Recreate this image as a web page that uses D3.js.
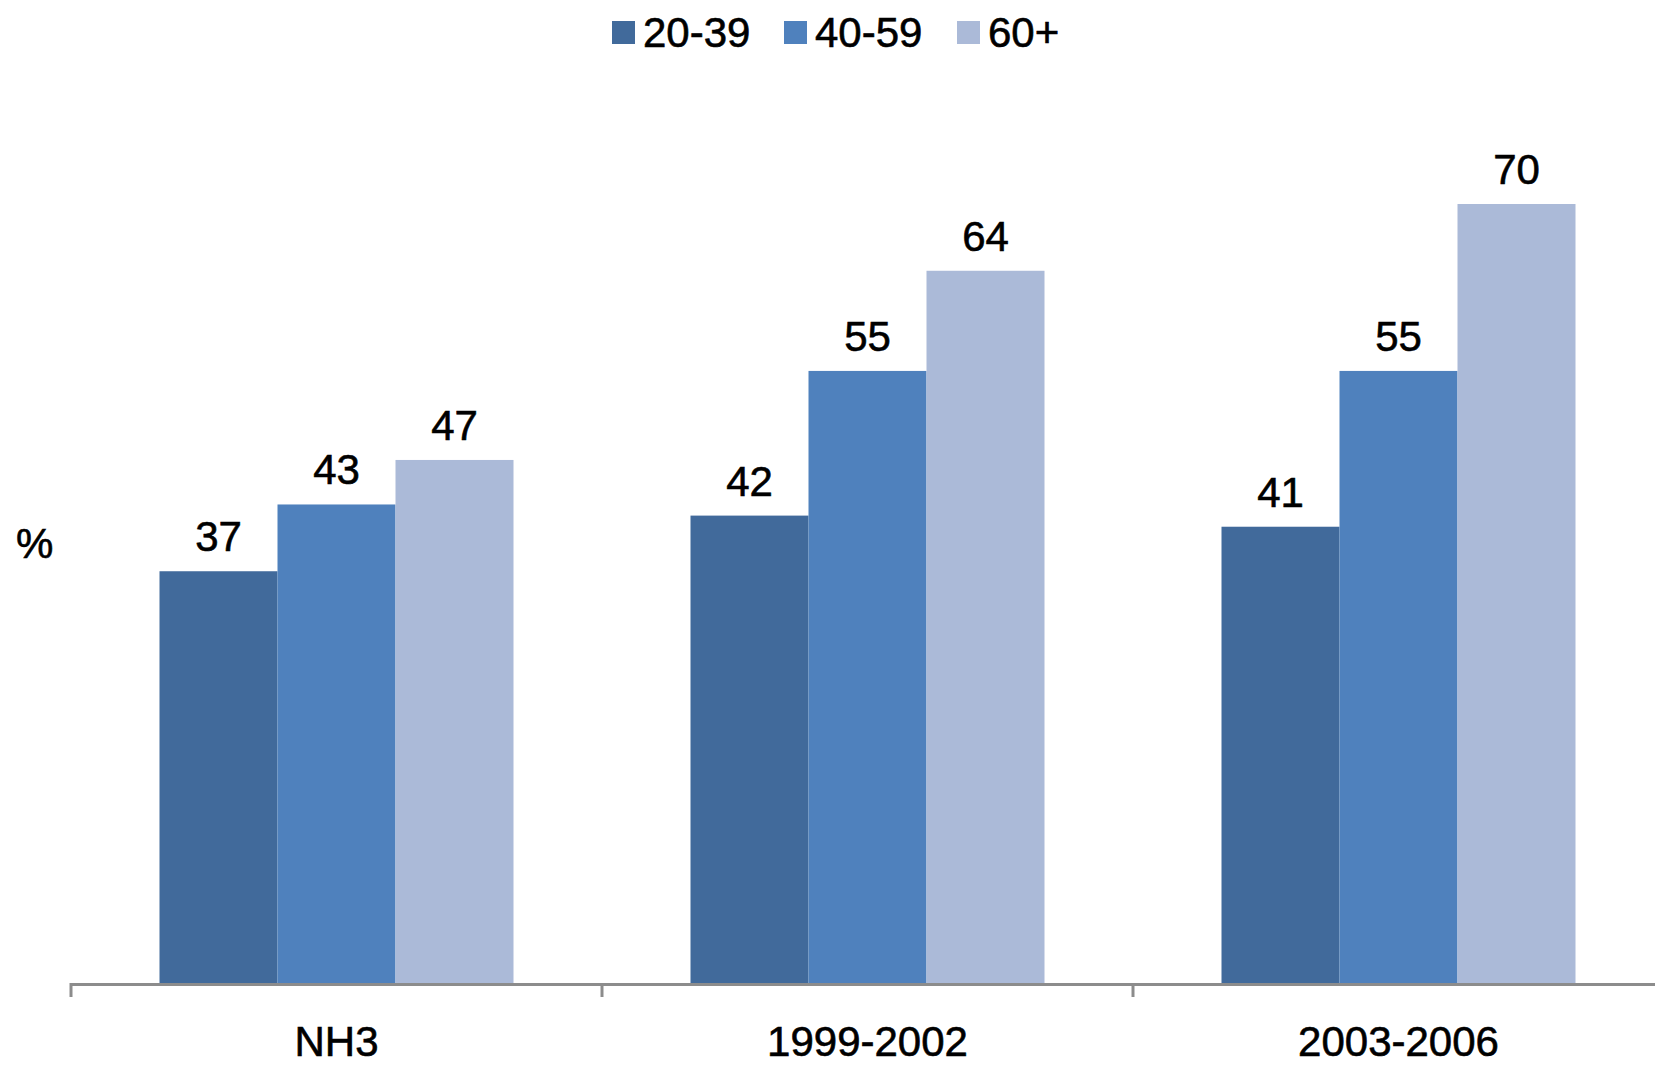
<!DOCTYPE html>
<html><head><meta charset="utf-8">
<script src="https://cdn.jsdelivr.net/npm/d3@7"></script>
<style>
html,body{margin:0;padding:0;background:#fff;}
svg{display:block;}
text{font-family:"Liberation Sans",Arial,sans-serif;fill:#000;stroke:#000;stroke-width:0.6px;}
</style></head>
<body>
<svg id="chart" width="1655" height="1065"></svg>
<script>
const categories = ["NH3", "1999-2002", "2003-2006"];
const seriesNames = ["20-39", "40-59", "60+"];
const values_20_39 = [37, 42, 41];
const values_40_59 = [43, 55, 55];
const values_60plus = [47, 64, 70];
const seriesColors = ["#416A9B", "#4F81BD", "#ABBAD8"];

const seriesValues = [values_20_39, values_40_59, values_60plus];
const svg = d3.select("#chart");
const W = 1655, H = 1065;
const left = 71, catW = 531, baseY = 983;

const x0 = d3.scaleBand().domain(categories).range([left, left + catW * categories.length]).padding(0);
const barW = x0.bandwidth() / 4.5;
const x1 = d3.scaleBand().domain(seriesNames).range([barW * 0.75, x0.bandwidth() - barW * 0.75]).padding(0);
const y = d3.scaleLinear().domain([0, 70]).range([baseY, 204]);

const data = [];
categories.forEach((c, ci) => seriesNames.forEach((s, si) => data.push({c, s, si, v: seriesValues[si][ci]})));

const g = svg.append("g");
g.selectAll("rect.bar").data(data).enter().append("rect")
  .attr("class", "bar")
  .attr("x", d => x0(d.c) + x1(d.s))
  .attr("y", d => y(d.v))
  .attr("width", x1.bandwidth())
  .attr("height", d => y(0) - y(d.v))
  .attr("fill", d => seriesColors[d.si]);

g.selectAll("text.val").data(data).enter().append("text")
  .attr("class", "val")
  .attr("x", d => x0(d.c) + x1(d.s) + x1.bandwidth() / 2)
  .attr("y", d => y(d.v) - 20)
  .attr("text-anchor", "middle")
  .attr("font-size", 42)
  .text(d => d.v);

// x axis
const axis = svg.append("g");
axis.append("line").attr("x1", left).attr("x2", W).attr("y1", baseY + 1.5).attr("y2", baseY + 1.5)
  .attr("stroke", "#8c8c8c").attr("stroke-width", 3);
categories.forEach(c => {
  axis.append("line").attr("x1", x0(c)).attr("x2", x0(c)).attr("y1", baseY).attr("y2", baseY + 14)
    .attr("stroke", "#8c8c8c").attr("stroke-width", 3);
});
axis.selectAll("text.cat").data(categories).enter().append("text")
  .attr("class", "cat")
  .attr("x", d => x0(d) + x0.bandwidth() / 2)
  .attr("y", 1056)
  .attr("text-anchor", "middle")
  .attr("font-size", 42)
  .text(d => d);

// y label
svg.append("text").attr("x", 16).attr("y", 558).attr("font-size", 42).text("%");

// legend
const legendX = [612, 784, 957];
const lg = svg.append("g");
seriesNames.forEach((s, i) => {
  lg.append("rect").attr("x", legendX[i]).attr("y", 21).attr("width", 23).attr("height", 23).attr("fill", seriesColors[i]);
  lg.append("text").attr("x", legendX[i] + 31).attr("y", 47).attr("font-size", 42).text(s);
});
</script>
</body></html>
